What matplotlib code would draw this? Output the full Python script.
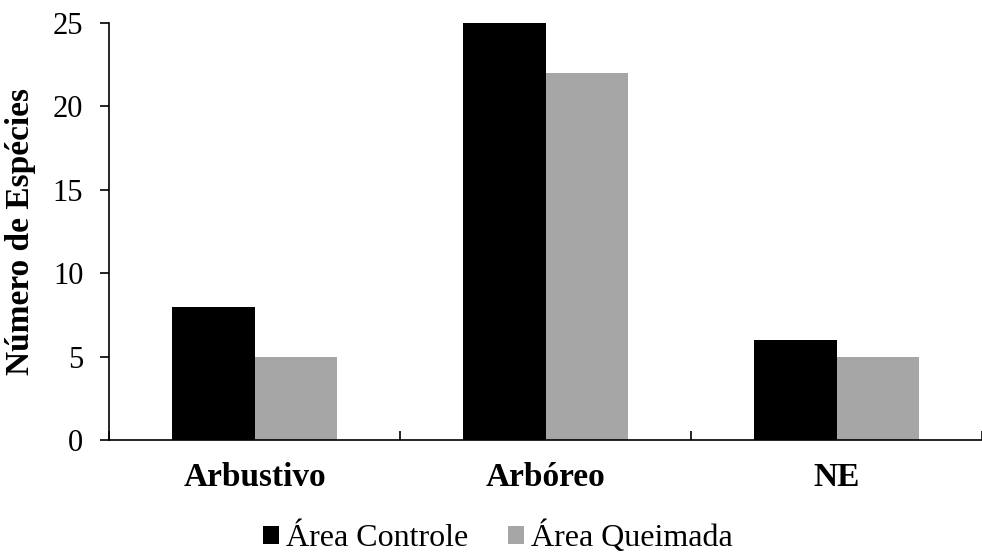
import matplotlib
matplotlib.use('Agg')
import matplotlib.pyplot as plt
import numpy as np

categories = ['Arbustivo', 'Arbóreo', 'NE']
controle = [8, 25, 6]
queimada = [5, 22, 5]
series_names = ['Área Controle', 'Área Queimada']
yticks = [0, 5, 10, 15, 20, 25]

plt.rcParams['font.family'] = ['Liberation Serif', 'DejaVu Serif']
plt.rcParams['font.size'] = 22

fig = plt.figure(figsize=(9.82, 5.53), dpi=100)
ax = fig.add_axes([0.111, 0.2043, 0.889, 0.7541])

x = np.arange(len(categories))
w = 0.285
ax.bar(x - w / 2, controle, w, color='#000000', label=series_names[0])
ax.bar(x + w / 2, queimada, w, color='#A6A6A6', label=series_names[1])

ax.set_xlim(-0.5, len(categories) - 0.5)
ax.set_ylim(0, 25)
ax.set_yticks(yticks)

ax.set_xticks(x)
ax.set_xticklabels(categories, fontweight='bold', fontsize=24)
ax.tick_params(axis='x', which='major', length=0, pad=16)
ax.set_xticks(np.arange(len(categories) + 1) - 0.5, minor=True)
ax.tick_params(axis='x', which='minor', direction='in', length=6.5, width=1.2)
ax.tick_params(axis='y', direction='out', length=6.5, width=1.2, pad=12)

for s in ['top', 'right']:
    ax.spines[s].set_visible(False)
for s in ['left', 'bottom']:
    ax.spines[s].set_linewidth(1.2)

ax.set_ylabel('Número de Espécies', fontweight='bold', fontsize=24, labelpad=12)

fig.legend(loc='center', bbox_to_anchor=(498 / 982, 16 / 553), ncol=2, frameon=False,
           handlelength=0.5, handleheight=0.5, handletextpad=0.22, columnspacing=1.25,
           borderaxespad=0, fontsize=23)

fig.savefig('out.png', dpi=100)
